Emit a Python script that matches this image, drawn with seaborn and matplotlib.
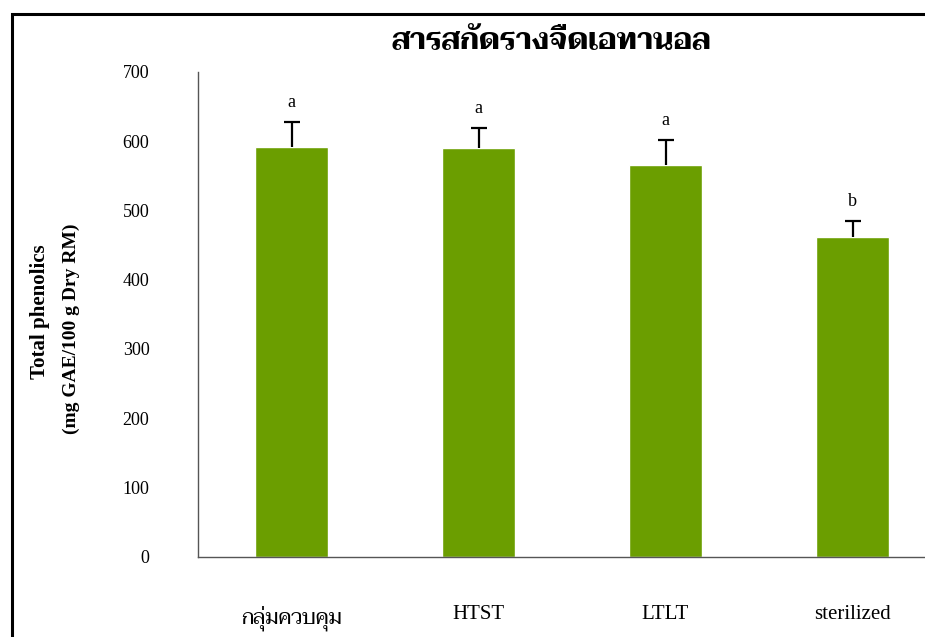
import glob
import matplotlib
matplotlib.use("Agg")
import matplotlib.pyplot as plt
from matplotlib import font_manager as fm
from matplotlib.patches import Rectangle
import seaborn as sns
import pandas as pd

for f in glob.glob("/usr/share/fonts/truetype/google-fonts/Taviraj-*.ttf"):
    try:
        fm.fontManager.addfont(f)
    except Exception:
        pass

categories = ["กลุ่มควบคุม", "HTST", "LTLT", "sterilized"]
values = [591, 590, 565, 461]
errors = [37, 29, 37, 24]
letters = ["a", "a", "a", "b"]
yticks = [0, 100, 200, 300, 400, 500, 600, 700]
title = "สารสกัดรางจืดเอทานอล"
ylabel1 = "Total phenolics"
ylabel2 = "(mg GAE/100 g Dry RM)"

sns.set_theme(style="white")
serif = ["Liberation Serif", "Taviraj", "DejaVu Serif"]
plt.rcParams["font.family"] = serif
plt.rcParams["text.color"] = "black"

df = pd.DataFrame({"group": categories, "value": values})

fig = plt.figure(figsize=(9.25, 6.37), dpi=100)
ax = fig.add_axes([198 / 925, 1 - 556.5 / 637, 748 / 925, (556.5 - 72) / 637])

sns.barplot(data=df, x="group", y="value", color="#6B9E00", saturation=1,
            width=0.395, errorbar=None, ax=ax)
eb = ax.errorbar(range(len(values)), values, yerr=[[0] * len(values), errors],
                 fmt="none", ecolor="black", elinewidth=1.6, capsize=5.5, capthick=1.6)
# hide the lower caps (zero-length lower error)
eb[1][0].set_visible(False)
for i, (v, e, l) in enumerate(zip(values, errors, letters)):
    ax.annotate(l, (i, v + e), xytext=(0, 8), textcoords="offset points",
                ha="center", va="bottom", fontsize=13, family=serif, color="black")

ax.set_ylim(0, 700)
ax.set_xlim(-0.5, 3.5)
ax.set_yticks(yticks)
ax.set_yticklabels([str(t) for t in yticks], fontsize=13, family=serif, color="black")
ax.tick_params(axis="y", length=0, pad=35, labelcolor="black")
ax.tick_params(axis="x", length=0, pad=35, labelsize=15, labelcolor="black")
for lab in ax.get_xticklabels():
    lab.set_family(serif)
ax.set_xlabel("")
ax.set_ylabel("")
for s in ["top", "right"]:
    ax.spines[s].set_visible(False)
for s in ["left", "bottom"]:
    ax.spines[s].set_color("#555555")
    ax.spines[s].set_linewidth(1.0)
ax.patch.set_alpha(0)

fig.text(551 / 925, 1 - 42 / 637, title, ha="center", va="center",
         fontsize=21, fontweight="bold", family=["Taviraj", "Liberation Serif"],
         color="black")
fig.text(40 / 925, 1 - 312 / 637, ylabel1, rotation=90, ha="center", va="center",
         fontsize=15, fontweight="bold", family=serif, color="black")
fig.text(71 / 925, 1 - 329 / 637, ylabel2, rotation=90, ha="center", va="center",
         fontsize=14, fontweight="bold", family=serif, color="black")

fig.patches.append(Rectangle((11.5 / 925, -0.1), 1.2, 1.1 - 13.5 / 637,
                             transform=fig.transFigure, fill=False,
                             edgecolor="black", linewidth=2.2, zorder=10))

fig.savefig("out.png", dpi=100)
